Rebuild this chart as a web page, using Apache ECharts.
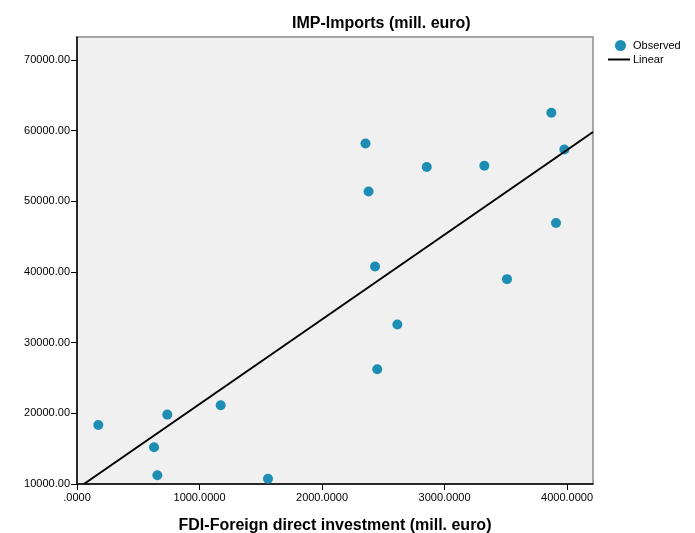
<!DOCTYPE html>
<html>
<head>
<meta charset="utf-8">
<script src="https://cdn.jsdelivr.net/npm/echarts@6/dist/echarts.min.js"></script>
<style>html,body{margin:0;padding:0;background:#fff}#c{width:695px;height:533px}</style>
</head>
<body>
<div id="c"></div>
<script>
// FDI (mill. euro) vs Imports (mill. euro)
var fdi = [174, 629, 656, 737, 1173, 1559, 2355, 2380, 2433, 2451, 2615, 2855, 3325, 3510, 3872, 3910, 3978];
var imports = [18360, 15200, 11230, 19820, 21150, 10750, 58200, 51400, 40780, 26250, 32560, 54860, 55040, 38990, 62550, 46930, 57350];
// Linear fit
var fitIntercept = 9317;
var fitSlope = 11.99;
var xTicks = [0, 1000, 2000, 3000, 4000];
var yTicks = [10000, 20000, 30000, 40000, 50000, 60000, 70000];
var xMin = 0, xMax = 4212, yMin = 10000, yMax = 73260;

var pts = fdi.map(function (x, i) { return [x, imports[i]]; });
var xStart = (yMin - fitIntercept) / fitSlope;
var linePts = [[xStart, fitIntercept + fitSlope * xStart], [xMax, fitIntercept + fitSlope * xMax]];

var FONT = 'Arial, "Liberation Sans", sans-serif';
var chart = echarts.init(document.getElementById('c'), null, {renderer: 'canvas'});
chart.setOption({
  animation: false,
  title: {
    text: 'IMP-Imports (mill. euro)', left: 287, top: 11,
    textStyle: {fontFamily: FONT, fontSize: 16, fontWeight: 'bold', color: '#000'}
  },
  legend: [{
    data: ['Observed'], left: 615, top: 40, padding: 0, icon: 'circle', itemWidth: 11, itemHeight: 11,
    textStyle: {fontFamily: FONT, fontSize: 11, color: '#000', padding: [0, 0, 0, 2]}
  }, {
    data: ['Linear'], left: 608, top: 54, padding: 0, icon: 'rect', itemWidth: 22, itemHeight: 2,
    textStyle: {fontFamily: FONT, fontSize: 11, color: '#000', padding: [0, 0, 0, -2]}
  }],
  grid: {
    left: 77, right: 102, top: 37, bottom: 49, outerBoundsMode: 'none', containLabel: false,
    show: true, backgroundColor: '#f0f0f0', borderColor: '#8a8a8a', borderWidth: 1.5
  },
  xAxis: {
    type: 'value', min: xMin, max: xMax,
    name: 'FDI-Foreign direct investment (mill. euro)', nameLocation: 'middle', nameGap: 34,
    nameTextStyle: {fontFamily: FONT, fontSize: 16, fontWeight: 'bold', color: '#000'},
    axisLine: {show: true, onZero: false, lineStyle: {color: '#000', width: 1.5}},
    axisTick: {show: true, length: 6, customValues: xTicks, lineStyle: {color: '#000'}},
    axisLabel: {customValues: xTicks, margin: 8, fontFamily: FONT, fontSize: 11, color: '#000',
      formatter: function (v) { return v === 0 ? '.0000' : v.toFixed(4); }},
    splitLine: {show: false}
  },
  yAxis: {
    type: 'value', min: yMin, max: yMax,
    axisLine: {show: true, onZero: false, lineStyle: {color: '#000', width: 1.5}},
    axisTick: {show: true, length: 6, customValues: yTicks, lineStyle: {color: '#000'}},
    axisLabel: {customValues: yTicks, margin: 7, fontFamily: FONT, fontSize: 11, color: '#000',
      formatter: function (v) { return v.toFixed(2); }},
    splitLine: {show: false}
  },
  series: [{
    name: 'Observed', type: 'scatter', data: pts, symbol: 'circle', symbolSize: 10,
    itemStyle: {color: '#1d8db4', opacity: 1}
  }, {
    name: 'Linear', type: 'line', data: linePts, showSymbol: false, symbol: 'none',
    lineStyle: {color: '#000', width: 2}, itemStyle: {color: '#000'}, z: 3
  }]
});
</script>
</body>
</html>
